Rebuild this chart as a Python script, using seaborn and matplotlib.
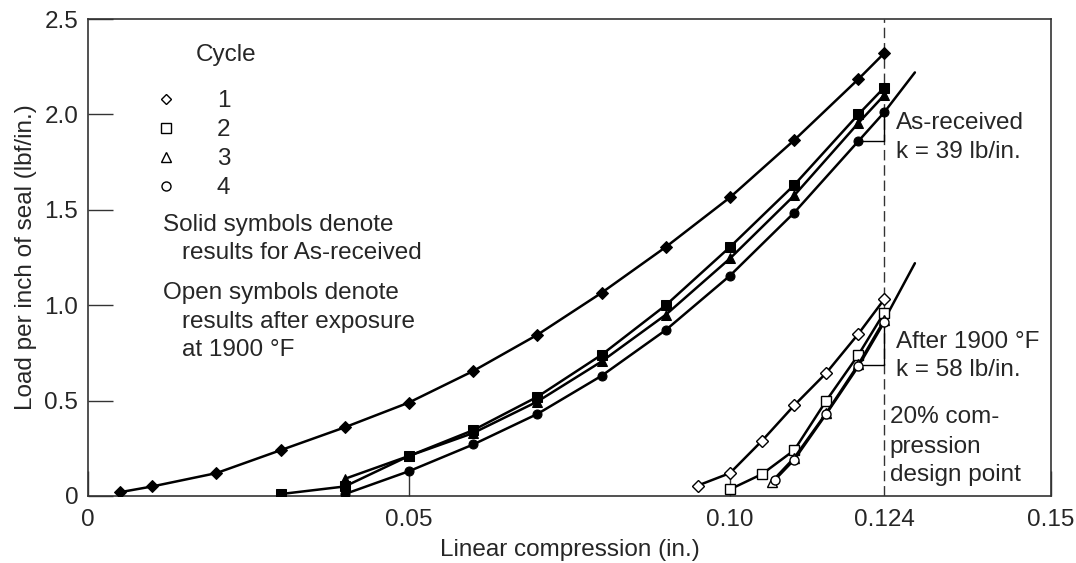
import numpy as np
import pandas as pd
import matplotlib
matplotlib.use('Agg')
import matplotlib.pyplot as plt
from matplotlib.lines import Line2D
import seaborn as sns

# --- data ---
# As-received (solid symbols)
x_ar_c1 = [0.005, 0.01, 0.02, 0.03, 0.04, 0.05, 0.06, 0.07, 0.08, 0.09, 0.10, 0.11, 0.12, 0.124]
y_ar_c1 = [0.02, 0.05, 0.12, 0.24, 0.36, 0.49, 0.655, 0.845, 1.065, 1.305, 1.565, 1.865, 2.185, 2.32]
x_ar_c2 = [0.03, 0.04, 0.05, 0.06, 0.07, 0.08, 0.09, 0.10, 0.11, 0.12, 0.124]
y_ar_c2 = [0.01, 0.05, 0.21, 0.345, 0.52, 0.74, 1.0, 1.305, 1.63, 2.0, 2.14]
x_ar_c3 = [0.04, 0.05, 0.06, 0.07, 0.08, 0.09, 0.10, 0.11, 0.12, 0.124]
y_ar_c3 = [0.09, 0.21, 0.33, 0.495, 0.705, 0.95, 1.245, 1.575, 1.955, 2.10]
x_ar_c4 = [0.04, 0.05, 0.06, 0.07, 0.08, 0.09, 0.10, 0.11, 0.12, 0.124]
y_ar_c4 = [0.01, 0.13, 0.27, 0.43, 0.63, 0.87, 1.155, 1.485, 1.86, 2.01]

# After exposure at 1900 F (open symbols)
x_ex_c1 = [0.095, 0.10, 0.105, 0.11, 0.115, 0.12, 0.124]
y_ex_c1 = [0.055, 0.12, 0.29, 0.475, 0.645, 0.85, 1.03]
x_ex_c2 = [0.10, 0.105, 0.11, 0.115, 0.12, 0.124]
y_ex_c2 = [0.035, 0.115, 0.24, 0.50, 0.74, 0.96]
x_ex_c3 = [0.1065, 0.11, 0.115, 0.12, 0.124]
y_ex_c3 = [0.075, 0.20, 0.435, 0.69, 0.92]
x_ex_c4 = [0.107, 0.11, 0.115, 0.12, 0.124]
y_ex_c4 = [0.085, 0.19, 0.43, 0.68, 0.91]

# stiffness tangent lines and slope brackets
k_ar_x = [0.124, 0.1288]
k_ar_y = [2.01, 2.22]
k_ex_x = [0.124, 0.1288]
k_ex_y = [0.92, 1.22]
br_ar_x = [0.12, 0.124, 0.124]
br_ar_y = [1.86, 1.86, 2.01]
br_ex_x = [0.1207, 0.124, 0.124]
br_ex_y = [0.685, 0.685, 0.92]

design_x = 0.124
cycles = ['1', '2', '3', '4']
cycle_markers = ['D', 's', '^', 'o']
x_ticks = [0, 0.05, 0.10, 0.15]
x_tick_labels = ['0', '0.05', '0.10', '0.15']
y_ticks = [0, 0.5, 1.0, 1.5, 2.0, 2.5]
y_tick_labels = ['0', '0.5', '1.0', '1.5', '2.0', '2.5']

sns.set_style('ticks')
plt.rcParams['font.family'] = ['Liberation Sans', 'DejaVu Sans']
FS = 17.5

fig = plt.figure(figsize=(10.76, 5.63), dpi=100)
ax = fig.add_axes([88 / 1076, 1 - 496 / 563, (1051 - 88) / 1076, (496 - 19) / 563])

solid = [(x_ar_c1, y_ar_c1), (x_ar_c2, y_ar_c2), (x_ar_c3, y_ar_c3), (x_ar_c4, y_ar_c4)]
opened = [(x_ex_c1, y_ex_c1), (x_ex_c2, y_ex_c2), (x_ex_c3, y_ex_c3), (x_ex_c4, y_ex_c4)]
msize = {'D': 6.0, 's': 7.0, '^': 7.0, 'o': 6.5}

for (xs, ys), m in zip(solid, cycle_markers):
    sns.lineplot(x=xs, y=ys, ax=ax, color='black', linewidth=1.8, marker=m,
                 markersize=msize[m], markerfacecolor='black', markeredgecolor='black',
                 sort=False, zorder=3)
for (xs, ys), m in zip(opened, cycle_markers):
    sns.lineplot(x=xs, y=ys, ax=ax, color='black', linewidth=1.8, marker=m,
                 markersize=msize[m], markerfacecolor='white', markeredgecolor='black',
                 markeredgewidth=1.0, sort=False, zorder=3)

# tangent lines and slope brackets
for xs, ys in [(k_ar_x, k_ar_y), (k_ex_x, k_ex_y)]:
    sns.lineplot(x=xs, y=ys, ax=ax, color='black', linewidth=1.8, sort=False, zorder=2)
for xs, ys in [(br_ar_x, br_ar_y), (br_ex_x, br_ex_y)]:
    ax.plot(xs, ys, color='black', linewidth=1.0, zorder=2)

# design point
ax.axvline(design_x, color='#333333', linewidth=1.0, linestyle=(0, (7.5, 3.5)), zorder=1)

ax.set_xlim(0, 0.15)
ax.set_ylim(0, 2.5)
ax.set_xticks(x_ticks, labels=x_tick_labels)
ax.set_xticks([design_x], labels=['0.124'], minor=True)
ax.set_yticks(y_ticks, labels=y_tick_labels)
ax.tick_params(which='major', direction='in', length=18, width=1.0, color='#333333',
               labelsize=FS)
ax.tick_params(which='minor', length=0, labelsize=FS)
ax.tick_params(axis='x', which='both', pad=9)
ax.tick_params(axis='y', pad=7)
for s in ax.spines.values():
    s.set_color('#333333')
    s.set_linewidth(1.2)

ax.set_xlabel('Linear compression (in.)', fontsize=FS, labelpad=6)
ax.set_ylabel('Load per inch of seal (lbf/in.)', fontsize=FS, labelpad=5)

# legend
handles = [Line2D([], [], linestyle='none', marker=m, markersize=6.5 if m != 'D' else 5.5,
                  markerfacecolor='white', markeredgecolor='black', markeredgewidth=1.0)
           for m in cycle_markers]
ax.legend(handles, cycles, loc='upper left', bbox_to_anchor=(0.068, 0.851),
          frameon=False, fontsize=FS, handlelength=1.0, handletextpad=1.6,
          labelspacing=0.29, borderpad=0, borderaxespad=0)

txt = dict(fontsize=FS, va='center', ha='left')
ax.text(0.0168, 2.31, 'Cycle', **txt)
ax.text(0.0117, 1.42, 'Solid symbols denote', **txt)
ax.text(0.0146, 1.272, 'results for As-received', **txt)
ax.text(0.0117, 1.062, 'Open symbols denote', **txt)
ax.text(0.0146, 0.912, 'results after exposure', **txt)
ax.text(0.0146, 0.764, 'at 1900 °F', **txt)
ax.text(0.1258, 1.955, 'As-received', **txt)
ax.text(0.1258, 1.803, 'k = 39 lb/in.', **txt)
ax.text(0.1258, 0.807, 'After 1900 °F', **txt)
ax.text(0.1258, 0.659, 'k = 58 lb/in.', **txt)
ax.text(0.1249, 0.414, '20% com-', **txt)
ax.text(0.1249, 0.257, 'pression', **txt)
ax.text(0.1249, 0.109, 'design point', **txt)

fig.savefig('out.png', dpi=100)
